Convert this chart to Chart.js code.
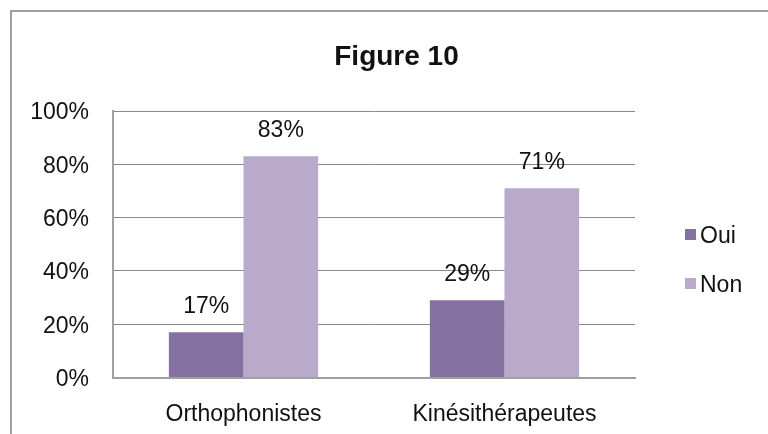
<!DOCTYPE html>
<html>
<head>
<meta charset="utf-8">
<script src="https://cdn.jsdelivr.net/npm/chart.js@4/dist/chart.umd.min.js"></script>
<style>
  html, body { margin: 0; padding: 0; background: #fff; }
  #wrap { width: 768px; height: 434px; position: relative; }
</style>
</head>
<body>
<div id="wrap"><canvas id="c" width="768" height="434"></canvas></div>
<script>
const title = "Figure 10";
const categories = ["Orthophonistes", "Kinésithérapeutes"];
const seriesNames = ["Oui", "Non"];
const ouiValues = [17, 29];
const nonValues = [83, 71];
const yTicks = [0, 20, 40, 60, 80, 100];
const colors = ["#8471A0", "#B9AACB"];

const FONT = "'Liberation Sans', Arial, sans-serif";

const framePlugin = {
  id: 'frame',
  beforeDraw(chart) {
    const ctx = chart.ctx;
    ctx.save();
    ctx.fillStyle = '#fff';
    ctx.fillRect(0, 0, chart.width, chart.height);
    ctx.strokeStyle = '#a0a0a0';
    ctx.lineWidth = 2;
    ctx.beginPath();
    ctx.moveTo(11, chart.height);
    ctx.lineTo(11, 11);
    ctx.lineTo(chart.width, 11);
    ctx.stroke();
    ctx.restore();
  }
};

const titlePlugin = {
  id: 'titleText',
  afterDraw(chart) {
    const ctx = chart.ctx;
    ctx.save();
    ctx.font = "bold 28px " + FONT;
    ctx.fillStyle = '#111';
    ctx.textAlign = 'center';
    ctx.textBaseline = 'middle';
    ctx.fillText(title, 396.5, 57);
    ctx.restore();
  }
};

const labelPlugin = {
  id: 'valueLabels',
  afterDatasetsDraw(chart) {
    const ctx = chart.ctx;
    ctx.save();
    ctx.font = "23px " + FONT;
    ctx.fillStyle = '#111';
    ctx.textAlign = 'center';
    ctx.textBaseline = 'alphabetic';
    chart.data.datasets.forEach((ds, i) => {
      const meta = chart.getDatasetMeta(i);
      meta.data.forEach((bar, j) => {
        ctx.fillText(ds.data[j] + '%', bar.x, bar.y - 19);
      });
    });
    ctx.restore();
  }
};

const legendPlugin = {
  id: 'customLegend',
  afterDraw(chart) {
    const ctx = chart.ctx;
    ctx.save();
    ctx.font = "23px " + FONT;
    ctx.textBaseline = 'middle';
    ctx.textAlign = 'left';
    const ys = [236, 285];
    chart.data.datasets.forEach((ds, i) => {
      ctx.fillStyle = ds.backgroundColor;
      ctx.fillRect(685, ys[i] - 7, 11, 11);
      ctx.fillStyle = '#111';
      ctx.fillText(ds.label, 700, ys[i] + 1);
    });
    ctx.restore();
  }
};

new Chart(document.getElementById('c'), {
  type: 'bar',
  data: {
    labels: categories,
    datasets: [
      { label: seriesNames[0], data: ouiValues, backgroundColor: colors[0] },
      { label: seriesNames[1], data: nonValues, backgroundColor: colors[1] }
    ]
  },
  options: {
    responsive: false,
    animation: false,
    devicePixelRatio: 1,
    layout: { padding: { left: 12, right: 133, top: 111, bottom: 0 } },
    datasets: { bar: { categoryPercentage: 0.572, barPercentage: 1.0 } },
    plugins: {
      legend: { display: false },
      tooltip: { enabled: false },
      title: { display: false }
    },
    scales: {
      x: {
        grid: { display: false },
        border: { display: true, color: '#a0a0a0', width: 2 },
        ticks: { color: '#111', font: { family: FONT, size: 23 }, padding: 15 },
        afterFit(scale) { scale.height = 56.5; }
      },
      y: {
        min: 0,
        max: 100,
        afterBuildTicks(scale) { scale.ticks = yTicks.map(v => ({ value: v })); },
        grid: { color: '#888888', lineWidth: 1, drawTicks: false },
        border: { display: true, color: '#a0a0a0', width: 2 },
        ticks: { color: '#111', font: { family: FONT, size: 23 }, padding: 24, labelOffset: 2,
                 callback: v => v + '%' },
        afterFit(scale) { scale.width = 101; }
      }
    }
  },
  plugins: [framePlugin, titlePlugin, labelPlugin, legendPlugin]
});
</script>
</body>
</html>
